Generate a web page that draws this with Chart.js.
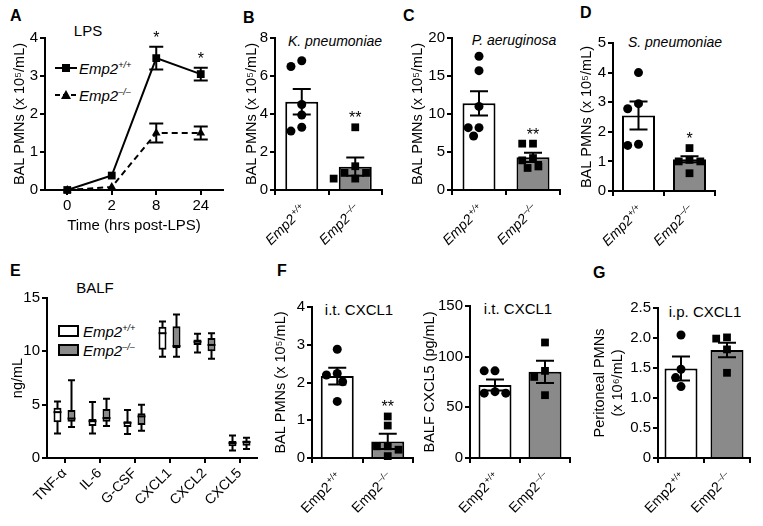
<!DOCTYPE html>
<html>
<head>
<meta charset="utf-8">
<script src="https://cdn.jsdelivr.net/npm/chart.js@4.4.1/dist/chart.umd.min.js"></script>
<style>
  body { margin: 0; background: #fff; font-family: 'Liberation Sans', Arial, sans-serif; }
  #fig { position: relative; width: 763px; height: 526px; overflow: hidden; background: #fff; }
  canvas { position: absolute; }
  .lt { position: absolute; font-weight: bold; font-size: 16px; line-height: 16px; }
  .t { position: absolute; font-size: 15px; white-space: nowrap; transform: translate(-50%, -50%); }
  .lg { position: absolute; font-size: 15px; font-style: italic; white-space: nowrap; transform: translateY(-50%); }
  .lg sup { font-size: 9px; }
  svg { position: absolute; left: 0; top: 0; }
</style>
</head>
<body>
<div id="fig">
  <div class="lt" style="left:10px;top:8px">A</div>
  <div class="lt" style="left:243px;top:10px">B</div>
  <div class="lt" style="left:403px;top:8px">C</div>
  <div class="lt" style="left:580px;top:5px">D</div>
  <div class="lt" style="left:10px;top:263px">E</div>
  <div class="lt" style="left:277px;top:263px">F</div>
  <div class="lt" style="left:593px;top:265px">G</div>

  <div class="t" style="left:88px;top:30px">LPS</div>
  <div class="t" style="left:335px;top:41px;font-style:italic;font-size:14px">K. pneumoniae</div>
  <div class="t" style="left:514px;top:40px;font-style:italic;font-size:14px">P. aeruginosa</div>
  <div class="t" style="left:675px;top:42px;font-style:italic;font-size:14px">S. pneumoniae</div>
  <div class="t" style="left:95px;top:287px">BALF</div>
  <div class="t" style="left:359px;top:309px">i.t. CXCL1</div>
  <div class="t" style="left:518px;top:308px">i.t. CXCL1</div>
  <div class="t" style="left:705px;top:311px">i.p. CXCL1</div>

  <svg width="763" height="526">
    <line x1="55" y1="68" x2="77" y2="68" stroke="#000" stroke-width="2"/>
    <rect x="62" y="64" width="8" height="8" fill="#000"/>
    <line x1="55" y1="95" x2="77" y2="95" stroke="#000" stroke-width="2" stroke-dasharray="5,3"/>
    <polygon points="66,90 71,99 61,99" fill="#000"/>
    <rect x="59" y="326" width="19" height="10" fill="#fff" stroke="#000" stroke-width="2"/>
    <rect x="59" y="345" width="19" height="10" fill="#8a8a8a" stroke="#000" stroke-width="2"/>
  </svg>
  <div class="lg" style="left:79px;top:68px">Emp2<sup>+/+</sup></div>
  <div class="lg" style="left:79px;top:95px">Emp2<sup>–/–</sup></div>
  <div class="lg" style="left:83px;top:331px">Emp2<sup>+/+</sup></div>
  <div class="lg" style="left:83px;top:350px">Emp2<sup>–/–</sup></div>
</div>

<script>
// ---- A: LPS time course
const timeLabels = ['0', '2', '8', '24'];
const lpsWT = [0, 0.38, 3.47, 3.05];
const lpsWTsem = [0.03, 0.06, 0.3, 0.17];
const lpsKO = [0, 0.08, 1.5, 1.5];
const lpsKOsem = [0.02, 0.03, 0.25, 0.17];
const lpsSig = ['', '', '*', '*'];

// genotype tick labels (name + superscript)
const genoLabels = ['Emp2', 'Emp2'];
const genoSup = ['+/+', '–/–'];

// ---- B: K. pneumoniae
const kpMean = [4.65, 1.23];
const kpSem = [0.67, 0.48];
const kpWT = [6.8, 6.5, 4.5, 3.95, 3.3, 3.1];
const kpKO = [3.3, 1.25, 0.9, 0.9, 0.6, 0.6];
const kpSig = ['', '**'];

// ---- C: P. aeruginosa
const paMean = [11.4, 4.3];
const paSem = [1.6, 0.6];
const paWT = [17.6, 15.7, 11.0, 8.2, 8.2, 7.1];
const paKO = [6.1, 6.1, 4.2, 3.9, 3.1, 2.9];
const paSig = ['', '**'];

// ---- D: S. pneumoniae
const spMean = [2.55, 1.07];
const spSem = [0.47, 0.1];
const spWT = [4.0, 2.95, 2.78, 1.58, 1.54];
const spKO = [1.45, 1.05, 1.0, 1.0, 0.6];
const spSig = ['', '*'];

// ---- E: BALF cytokines (box plots)
const cytoLabels = ['TNF-α', 'IL-6', 'G-CSF', 'CXCL1', 'CXCL2', 'CXCL5'];
const wtMin = [2.3, 2.3, 2.25, 9.5, 9.9, 0.7];
const wtQ1 = [3.35, 3.0, 2.9, 10.15, 10.6, 1.1];
const wtMed = [4.3, 3.45, 3.3, 11.7, 10.9, 1.4];
const wtQ3 = [4.7, 3.65, 3.45, 12.3, 11.1, 1.6];
const wtMax = [5.3, 5.25, 4.5, 12.8, 11.65, 2.1];
const koMin = [2.9, 3.0, 2.55, 9.5, 9.3, 0.85];
const koQ1 = [3.4, 3.4, 3.1, 10.3, 10.0, 1.15];
const koMed = [3.7, 3.75, 3.9, 10.5, 10.6, 1.5];
const koQ3 = [4.5, 4.6, 4.2, 12.35, 11.25, 1.65];
const koMax = [7.3, 5.55, 5.0, 13.45, 11.7, 1.9];

// ---- F: i.t. CXCL1
const itPmnMean = [2.17, 0.44];
const itPmnSem = [0.22, 0.2];
const itPmnWT = [2.88, 2.24, 2.2, 2.02, 1.5];
const itPmnKO = [1.1, 0.86, 0.31, 0.31, 0.22, 0.05];
const itPmnSig = ['', '**'];

const cxcl5Mean = [72, 85];
const cxcl5Sem = [5.5, 11];
const cxcl5WT = [86, 86, 65.5, 64, 64];
const cxcl5KO = [114, 86, 80, 62];

// ---- G: i.p. CXCL1
const ipMean = [1.49, 1.8];
const ipSem = [0.2, 0.12];
const ipWT = [2.05, 1.48, 1.34, 1.19];
const ipKO = [2.01, 1.99, 1.81, 1.42];

const GRAY = '#8a8a8a';
const FONT = "'Liberation Sans', Arial, Helvetica, sans-serif";
Chart.defaults.font.family = FONT;
Chart.defaults.color = '#000';
Chart.defaults.animation = false;
Chart.defaults.plugins.legend.display = false;
Chart.defaults.plugins.tooltip.enabled = false;

function makeCanvas(x, y, w, h) {
    const c = document.createElement('canvas');
    c.width = w;
    c.height = h;
    c.style.left = x + 'px';
    c.style.top = y + 'px';
    c.style.width = w + 'px';
    c.style.height = h + 'px';
    document.getElementById('fig').appendChild(c);
    return c;
}

function yAxis(max, step, title, titlePad, w, fmt) {
    return {
        min: 0,
        max: max,
        ticks: {stepSize: step, font: {size: 15}, padding: 2, callback: fmt || (v => v)},
        grid: {drawOnChartArea: false, color: '#000', lineWidth: 2, tickLength: 5},
        border: {color: '#000', width: 2},
        title: {display: true, text: title, font: {size: 14.5}, padding: {top: titlePad, bottom: 0}},
        afterFit: s => { s.width = w; }
    };
}

function xAxis(labels, font, rot, h) {
    return {
        type: 'category',
        labels: labels,
        offset: true,
        ticks: {font: font, minRotation: rot, maxRotation: rot, autoSkip: false, padding: 2},
        grid: {offset: false, drawOnChartArea: false, color: '#000', lineWidth: 2, tickLength: 5},
        border: {color: '#000', width: 2},
        afterFit: s => { s.height = h; }
    };
}

// spread points sideways so they do not overlap (simple beeswarm)
function swarm(vals, max, plotH, catW) {
    const d = 9, placed = [];
    const off = vals.map(() => 0);
    const idx = vals.map((v, i) => i).sort((a, b) => vals[b] - vals[a]);
    for (const i of idx) {
        const py = vals[i] / max * plotH;
        for (let k = 0; k < 30; k++) {
            const px = (k % 2 ? -1 : 1) * Math.ceil(k / 2) * d * 0.6;
            if (placed.every(p => Math.hypot(p.x - px, p.y - py) >= d)) {
                placed.push({x: px, y: py});
                off[i] = px / catW;
                break;
            }
        }
    }
    return off;
}

function drawErr(ctx, x, top, bot, half) {
    ctx.beginPath();
    ctx.moveTo(x, top); ctx.lineTo(x, bot);
    ctx.moveTo(x - half, top); ctx.lineTo(x + half, top);
    ctx.moveTo(x - half, bot); ctx.lineTo(x + half, bot);
    ctx.stroke();
}

function drawStar(ctx, text, x, y) {
    ctx.save();
    ctx.fillStyle = '#000';
    ctx.font = '16px ' + FONT;
    ctx.textAlign = 'center';
    ctx.textBaseline = 'alphabetic';
    ctx.fillText(text, x, y);
    ctx.restore();
}

// rotated genotype label with a real superscript, ending just under the tick
function drawGeno(ctx, x, y, main, sup, italic) {
    const st = italic ? 'italic ' : '';
    ctx.save();
    ctx.fillStyle = '#000';
    ctx.font = st + '14px ' + FONT;
    const wMain = ctx.measureText(main).width;
    ctx.font = st + '9px ' + FONT;
    const wSup = ctx.measureText(sup).width;
    ctx.translate(x, y);
    ctx.rotate(-Math.PI / 4);
    ctx.textAlign = 'left';
    ctx.textBaseline = 'alphabetic';
    ctx.font = st + '14px ' + FONT;
    ctx.fillText(main, -(wMain + wSup + 1), 0);
    ctx.font = st + '9px ' + FONT;
    ctx.fillText(sup, -wSup, -5);
    ctx.restore();
}

// ---- bar + dot panels (linear x: genotype 0 and 1)
function barPanel(p) {
    const [l, t, r, b] = p.box;
    const padTop = 20, xH = 62, padR = 6;
    const cv = makeCanvas(l - p.yW, t - padTop, p.yW + (r - l) + padR, padTop + (b - t) + xH);
    const catW = (r - l) / 2;
    const plotH = b - t;
    const offWT = swarm(p.wt, p.yMax, plotH, catW);
    const offKO = swarm(p.ko, p.yMax, plotH, catW);

    return new Chart(cv, {
        type: 'bar',
        data: {
            datasets: [{
                type: 'bar',
                data: p.means.map((m, i) => ({x: i, y: m})),
                order: 2,
                backgroundColor: ['#fff', GRAY],
                borderColor: '#000',
                borderWidth: 2,
                borderSkipped: 'start',
                categoryPercentage: 1,
                barPercentage: 33 / catW
            }, {
                type: 'scatter',
                data: p.wt.map((v, i) => ({x: 0 + offWT[i], y: v})),
                order: 1,
                pointStyle: 'circle',
                pointRadius: 4.5,
                pointBackgroundColor: '#000',
                pointBorderWidth: 0,
                clip: false
            }, {
                type: 'scatter',
                data: p.ko.map((v, i) => ({x: 1 + offKO[i], y: v})),
                order: 1,
                pointStyle: 'rect',
                pointRadius: 5.5,
                pointBackgroundColor: '#000',
                pointBorderWidth: 0,
                clip: false
            }]
        },
        options: {
            responsive: false,
            devicePixelRatio: 1,
            layout: {padding: {top: padTop, right: padR, left: 0, bottom: 0}},
            scales: {
                x: {
                    type: 'linear',
                    min: -0.5,
                    max: 1.5,
                    offset: false,
                    afterBuildTicks: s => { s.ticks = [{value: 0}, {value: 1}]; },
                    ticks: {display: false},
                    grid: {drawOnChartArea: false, color: '#000', lineWidth: 2, tickLength: 5},
                    border: {color: '#000', width: 2},
                    afterFit: s => { s.height = xH; }
                },
                y: yAxis(p.yMax, p.yStep, p.yTitle, p.titlePad, p.yW, p.fmt)
            }
        },
        plugins: [{
            id: 'errbars',
            afterDatasetDraw(chart, args) {
                if (args.index !== 0) return;
                const y = chart.scales.y, ctx = chart.ctx;
                ctx.save();
                ctx.strokeStyle = '#000';
                ctx.lineWidth = 2;
                args.meta.data.forEach((bar, i) => {
                    drawErr(ctx, bar.x,
                        y.getPixelForValue(p.means[i] + p.sems[i]),
                        y.getPixelForValue(p.means[i] - p.sems[i]), 9);
                });
                ctx.restore();
            },
            afterDatasetsDraw(chart) {
                const y = chart.scales.y, xs = chart.scales.x;
                genoLabels.forEach((lab, i) => {
                    drawGeno(chart.ctx, xs.getPixelForValue(i) + 5, xs.top + 20, lab, genoSup[i], p.italic);
                });
                if (!p.sig) return;
                const bars = chart.getDatasetMeta(0).data;
                [p.wt, p.ko].forEach((vals, i) => {
                    if (!p.sig[i]) return;
                    const top = Math.max(...vals, p.means[i] + p.sems[i]);
                    drawStar(chart.ctx, p.sig[i], bars[i].x, y.getPixelForValue(top) - 4);
                });
            }
        }]
    });
}

const pmnTitle = 'BAL PMNs (x 10⁵/mL)';

barPanel({box: [275, 38, 382, 190], yW: 37, titlePad: 5.5, yMax: 8, yStep: 2, yTitle: pmnTitle,
    means: kpMean, sems: kpSem, wt: kpWT, ko: kpKO, sig: kpSig, italic: true});
barPanel({box: [452, 38, 560, 190], yW: 48, titlePad: 5.5, yMax: 20, yStep: 5, yTitle: pmnTitle,
    means: paMean, sems: paSem, wt: paWT, ko: paKO, sig: paSig, italic: true});
barPanel({box: [613, 43, 715, 191], yW: 40, titlePad: 5.5, yMax: 5, yStep: 1, yTitle: pmnTitle,
    means: spMean, sems: spSem, wt: spWT, ko: spKO, sig: spSig, italic: true});
barPanel({box: [312, 307, 413, 458], yW: 47, titlePad: 7.5, yMax: 4, yStep: 1, yTitle: pmnTitle,
    means: itPmnMean, sems: itPmnSem, wt: itPmnWT, ko: itPmnKO, sig: itPmnSig, italic: false});
barPanel({box: [470, 306, 570, 458], yW: 52, titlePad: 3.5, yMax: 150, yStep: 50, yTitle: 'BALF CXCL5 (pg/mL)',
    means: cxcl5Mean, sems: cxcl5Sem, wt: cxcl5WT, ko: cxcl5KO, sig: null, italic: false});
barPanel({box: [658, 308, 750, 458], yW: 73, titlePad: 6.5, yMax: 2.5, yStep: 0.5,
    yTitle: ['Peritoneal PMNs', '(x 10⁶/mL)'], fmt: v => (v === 0 ? '0' : v.toFixed(1)),
    means: ipMean, sems: ipSem, wt: ipWT, ko: ipKO, sig: null, italic: false});

// ---- A: line chart
(function () {
    const l = 45, t = 38, r = 223, b = 190, padTop = 20, xH = 50, padR = 8;
    const cv = makeCanvas(l - 45, t - padTop, 45 + (r - l) + padR, padTop + (b - t) + xH);
    const sems = [lpsWTsem, lpsKOsem];
    const xa = xAxis(timeLabels, {size: 15}, 0, xH);
    xa.title = {display: true, text: 'Time (hrs post-LPS)', font: {size: 15}, padding: {top: 0, bottom: 5}};
    new Chart(cv, {
        type: 'line',
        data: {
            labels: timeLabels,
            datasets: [{
                data: lpsWT,
                borderColor: '#000',
                borderWidth: 2,
                tension: 0,
                pointStyle: 'rect',
                pointRadius: 5.5,
                pointBackgroundColor: '#000',
                pointBorderWidth: 0,
                clip: false
            }, {
                data: lpsKO,
                borderColor: '#000',
                borderWidth: 2,
                borderDash: [6, 4],
                tension: 0,
                pointStyle: 'triangle',
                pointRadius: 5,
                pointBackgroundColor: '#000',
                pointBorderWidth: 0,
                clip: false
            }]
        },
        options: {
            responsive: false,
            devicePixelRatio: 1,
            layout: {padding: {top: padTop, right: padR, left: 0, bottom: 0}},
            scales: {
                x: xa,
                y: yAxis(4, 1, pmnTitle, 11.5, 45)
            }
        },
        plugins: [{
            id: 'lpsErr',
            afterDatasetsDraw(chart) {
                const y = chart.scales.y, ctx = chart.ctx;
                ctx.save();
                ctx.strokeStyle = '#000';
                ctx.lineWidth = 2;
                chart.data.datasets.forEach((ds, d) => {
                    chart.getDatasetMeta(d).data.forEach((pt, i) => {
                        if (sems[d][i] < 0.1) return;
                        drawErr(ctx, pt.x,
                            y.getPixelForValue(ds.data[i] + sems[d][i]),
                            y.getPixelForValue(ds.data[i] - sems[d][i]), 7);
                    });
                });
                ctx.restore();
                chart.getDatasetMeta(0).data.forEach((pt, i) => {
                    if (!lpsSig[i]) return;
                    drawStar(ctx, lpsSig[i], pt.x, y.getPixelForValue(lpsWT[i] + lpsWTsem[i]) - 4);
                });
            }
        }]
    });
})();

// ---- E: box plots
(function () {
    const l = 47, t = 298, r = 257, b = 458, padTop = 20, xH = 62, padR = 6;
    const cv = makeCanvas(l - 47, t - padTop, 47 + (r - l) + padR, padTop + (b - t) + xH);
    const stats = [
        {min: wtMin, q1: wtQ1, med: wtMed, q3: wtQ3, max: wtMax},
        {min: koMin, q1: koQ1, med: koMed, q3: koQ3, max: koMax}
    ];
    const box = (s, fill) => ({
        data: s.q1.map((q, i) => [q, s.q3[i]]),
        backgroundColor: fill,
        borderColor: '#000',
        borderWidth: 2,
        borderSkipped: false,
        categoryPercentage: 0.8,
        barPercentage: 0.57
    });
    new Chart(cv, {
        type: 'bar',
        data: {labels: cytoLabels, datasets: [box(stats[0], '#fff'), box(stats[1], GRAY)]},
        options: {
            responsive: false,
            devicePixelRatio: 1,
            layout: {padding: {top: padTop, right: padR, left: 0, bottom: 0}},
            scales: {
                x: xAxis(cytoLabels, {size: 14}, 45, xH),
                y: yAxis(15, 5, 'ng/mL', 9.5, 47)
            }
        },
        plugins: [{
            id: 'whiskers',
            beforeDatasetsDraw(chart) {
                const y = chart.scales.y, ctx = chart.ctx;
                ctx.save();
                ctx.strokeStyle = '#000';
                ctx.lineWidth = 2;
                stats.forEach((s, d) => {
                    chart.getDatasetMeta(d).data.forEach((bx, i) => {
                        drawErr(ctx, bx.x, y.getPixelForValue(s.max[i]), y.getPixelForValue(s.min[i]), 3.5);
                    });
                });
                ctx.restore();
            },
            afterDatasetsDraw(chart) {
                const y = chart.scales.y, ctx = chart.ctx;
                ctx.save();
                ctx.strokeStyle = '#000';
                ctx.lineWidth = 2;
                stats.forEach((s, d) => {
                    chart.getDatasetMeta(d).data.forEach((bx, i) => {
                        const py = y.getPixelForValue(s.med[i]);
                        ctx.beginPath();
                        ctx.moveTo(bx.x - bx.width / 2, py);
                        ctx.lineTo(bx.x + bx.width / 2, py);
                        ctx.stroke();
                    });
                });
                ctx.restore();
            }
        }]
    });
})();
</script>
</body>
</html>
